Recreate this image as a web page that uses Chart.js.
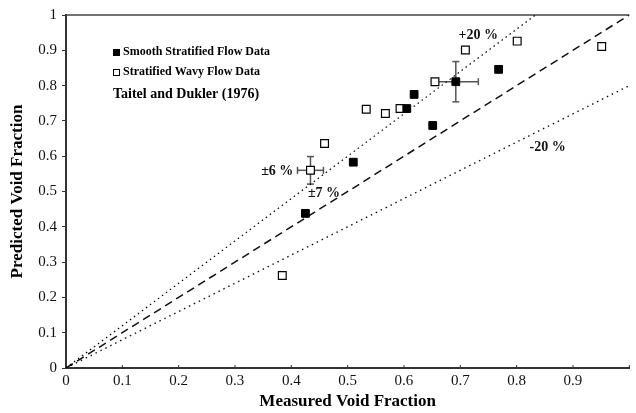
<!DOCTYPE html>
<html>
<head>
<meta charset="utf-8">
<script src="https://cdn.jsdelivr.net/npm/chart.js@4"></script>
<style>
  body { margin: 0; background: #fff; }
</style>
</head>
<body>
<canvas id="voidChart" width="636" height="413"></canvas>
<script>
// measured (x) vs predicted (y) void fraction

const smoothX = [0.425, 0.510, 0.605, 0.618, 0.651, 0.692, 0.768];
const smoothY = [0.438, 0.583, 0.735, 0.775, 0.687, 0.811, 0.846];
const smoothErrX = [0, 0, 0, 0, 0, 0.040, 0];
const smoothErrY = [0, 0, 0, 0, 0, 0.057, 0];

const wavyX = [0.384, 0.434, 0.459, 0.533, 0.567, 0.593, 0.655, 0.709, 0.801, 0.951];
const wavyY = [0.262, 0.560, 0.636, 0.733, 0.721, 0.735, 0.811, 0.901, 0.926, 0.911];
const wavyErrX = [0, 0.023, 0, 0, 0, 0, 0, 0, 0, 0];
const wavyErrY = [0, 0.039, 0, 0, 0, 0, 0, 0, 0, 0];

// predicted = ratio * measured
const ratios = [1.2, 1.0, 0.8];

const xTicks = ["0", "0.1", "0.2", "0.3", "0.4", "0.5", "0.6", "0.7", "0.8", "0.9", ""];
const yTicks = ["0", "0.1", "0.2", "0.3", "0.4", "0.5", "0.6", "0.7", "0.8", "0.9", "1"];

const serif = "'Liberation Serif', 'DejaVu Serif', serif";

function toPoints(xs, ys) {
    return xs.map((x, i) => ({ x: x, y: ys[i] }));
}

function ratioLine(r) {
    const xEnd = Math.min(1, 1 / r);
    return [{ x: 0, y: 0 }, { x: xEnd, y: r * xEnd }];
}

// labels placed in data units
const notes = [
    { text: "+20 %", x: 0.732, y: 0.943 },
    { text: "-20 %", x: 0.855, y: 0.626 },
    { text: "\u00b16 %", x: 0.375, y: 0.556 },
    { text: "\u00b17 %", x: 0.458, y: 0.494 }
];

const decorations = {
    id: "decorations",
    beforeDatasetsDraw(chart) {
        const ctx = chart.ctx;
        const xs = chart.scales.x;
        const ys = chart.scales.y;
        const area = chart.chartArea;

        ctx.save();

        // top frame line
        ctx.strokeStyle = "#444";
        ctx.lineWidth = 1.5;
        ctx.beginPath();
        ctx.moveTo(area.left, area.top);
        ctx.lineTo(area.right, area.top);
        ctx.stroke();

        // inward x ticks
        ctx.lineWidth = 1;
        ctx.strokeStyle = "#333";
        for (let i = 1; i < xTicks.length; i++) {
            const p = xs.getPixelForValue(i / 10);
            ctx.beginPath();
            ctx.moveTo(p, area.bottom);
            ctx.lineTo(p, area.bottom - 3);
            ctx.stroke();
        }

        // error bars
        ctx.strokeStyle = "#555";
        ctx.lineWidth = 1.5;
        function seg(x1, y1, x2, y2) {
            ctx.beginPath();
            ctx.moveTo(x1, y1);
            ctx.lineTo(x2, y2);
            ctx.stroke();
        }
        [[smoothX, smoothY, smoothErrX, smoothErrY], [wavyX, wavyY, wavyErrX, wavyErrY]].forEach(function (s) {
            s[0].forEach(function (x, i) {
                const y = s[1][i], ex = s[2][i], ey = s[3][i];
                const px = xs.getPixelForValue(x);
                const py = ys.getPixelForValue(y);
                if (ex) {
                    const l = xs.getPixelForValue(x - ex);
                    const r = xs.getPixelForValue(x + ex);
                    seg(l, py, r, py);
                    seg(l, py - 3.5, l, py + 3.5);
                    seg(r, py - 3.5, r, py + 3.5);
                }
                if (ey) {
                    const t = ys.getPixelForValue(y + ey);
                    const b = ys.getPixelForValue(y - ey);
                    seg(px, t, px, b);
                    seg(px - 3.5, t, px + 3.5, t);
                    seg(px - 3.5, b, px + 3.5, b);
                }
            });
        });

        ctx.restore();
    },
    afterDraw(chart) {
        const ctx = chart.ctx;
        const xs = chart.scales.x;
        const ys = chart.scales.y;

        ctx.save();
        ctx.fillStyle = "#111";
        ctx.textBaseline = "middle";

        // line labels
        ctx.textAlign = "center";
        ctx.font = "bold 14px " + serif;
        notes.forEach(function (n) {
            ctx.fillText(n.text, xs.getPixelForValue(n.x), ys.getPixelForValue(n.y));
        });

        // legend inside the plot
        ctx.textAlign = "left";
        ctx.fillStyle = "#000";
        ctx.fillRect(113, 49, 7, 7);
        ctx.strokeStyle = "#000";
        ctx.lineWidth = 1;
        ctx.strokeRect(113.5, 69.5, 6, 6);
        ctx.font = "bold 12px " + serif;
        ctx.fillText("Smooth Stratified Flow Data", 123, 52);
        ctx.fillText("Stratified Wavy Flow Data", 123, 72);
        ctx.font = "bold 14px " + serif;
        ctx.fillText("Taitel and Dukler (1976)", 113, 94);

        ctx.restore();
    }
};

new Chart(document.getElementById("voidChart"), {
    type: "scatter",
    data: {
        datasets: [
            {
                label: "Smooth Stratified Flow Data",
                data: toPoints(smoothX, smoothY),
                pointStyle: "rect",
                pointRadius: 5.5,
                backgroundColor: "#000",
                borderColor: "#000",
                borderWidth: 1,
                order: 1
            },
            {
                label: "Stratified Wavy Flow Data",
                data: toPoints(wavyX, wavyY),
                pointStyle: "rect",
                pointRadius: 5.5,
                backgroundColor: "#fff",
                borderColor: "#000",
                borderWidth: 1.2,
                order: 2
            },
            {
                label: "+20 %",
                data: ratioLine(ratios[0]),
                showLine: true,
                pointRadius: 0,
                borderColor: "#000",
                borderWidth: 1.2,
                borderDash: [1.5, 3.5],
                order: 3
            },
            {
                label: "Ideal",
                data: ratioLine(ratios[1]),
                showLine: true,
                pointRadius: 0,
                borderColor: "#111",
                borderWidth: 1.5,
                borderDash: [8, 5],
                order: 4
            },
            {
                label: "-20 %",
                data: ratioLine(ratios[2]),
                showLine: true,
                pointRadius: 0,
                borderColor: "#111",
                borderWidth: 1.4,
                borderDash: [1.5, 4],
                order: 5
            }
        ]
    },
    options: {
        responsive: false,
        animation: false,
        devicePixelRatio: 1,
        layout: { padding: { top: 15, right: 0, left: 0, bottom: 0 } },
        plugins: {
            legend: { display: false },
            tooltip: { enabled: false }
        },
        scales: {
            x: {
                type: "linear",
                min: 0,
                max: 1,
                afterFit: function (scale) { scale.height = 45; },
                ticks: {
                    stepSize: 0.1,
                    padding: 4,
                    color: "#111",
                    font: { family: serif, size: 15 },
                    callback: function (v) { return xTicks[Math.round(v * 10)]; }
                },
                grid: { display: true, drawOnChartArea: false, drawTicks: false },
                border: { display: true, color: "#333", width: 2 },
                title: {
                    display: true,
                    text: "Measured Void Fraction",
                    color: "#000",
                    font: { family: serif, size: 17, weight: "bold" },
                    padding: { top: 0, bottom: 1 }
                }
            },
            y: {
                type: "linear",
                min: 0,
                max: 1,
                afterFit: function (scale) { scale.width = 66; },
                ticks: {
                    stepSize: 0.1,
                    padding: 5,
                    color: "#111",
                    font: { family: serif, size: 15 },
                    callback: function (v) { return yTicks[Math.round(v * 10)]; }
                },
                grid: { display: true, drawOnChartArea: false, drawTicks: true, tickLength: 4, color: "#333" },
                border: { display: true, color: "#333", width: 2 },
                title: {
                    display: true,
                    text: "Predicted Void Fraction",
                    color: "#000",
                    font: { family: serif, size: 17, weight: "bold" },
                    padding: { top: 7, bottom: 0 }
                }
            }
        }
    },
    plugins: [decorations]
});
</script>
</body>
</html>
